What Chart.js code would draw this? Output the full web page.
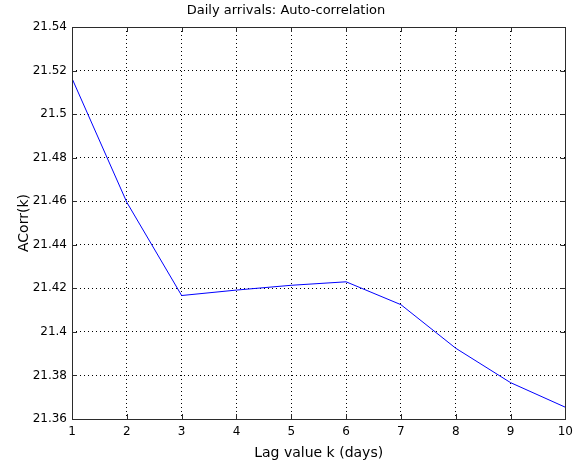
<!DOCTYPE html>
<html>
<head>
<meta charset="utf-8">
<script src="https://cdn.jsdelivr.net/npm/chart.js@4/dist/chart.umd.min.js"></script>
<style>
  html, body { margin: 0; padding: 0; background: #fff; }
  canvas { display: block; }
</style>
</head>
<body>
<canvas id="myChart" width="579" height="466"></canvas>
<script>
let ctx = document.getElementById('myChart').getContext('2d')

// data
let lags  = [1, 2, 3, 4, 5, 6, 7, 8, 9, 10]
let acorr = [21.5164, 21.4595, 21.4167, 21.4192, 21.4214, 21.4230, 21.4125, 21.3925, 21.3767, 21.3654]
let yTicks = [21.36, 21.38, 21.4, 21.42, 21.44, 21.46, 21.48, 21.5, 21.52, 21.54]
let xTicks = [1, 2, 3, 4, 5, 6, 7, 8, 9, 10]

let titleText  = 'Daily arrivals: Auto-correlation'
let xLabelText = 'Lag value k (days)'
let yLabelText = 'ACorr(k)'

const FONT = 'DejaVu Sans'

// matlab style box + inward tick marks
const boxPlugin = {
    id: 'box',
    afterDraw(chart) {
        let c = chart.ctx
        let {left, right, top, bottom} = chart.chartArea
        let xs = chart.scales.x, ys = chart.scales.y
        c.save()
        c.strokeStyle = '#2b2b2b'
        c.lineWidth = 1
        c.beginPath()
        for (let t of xTicks) {
            let px = Math.round(xs.getPixelForValue(t)) + 0.5
            c.moveTo(px, bottom); c.lineTo(px, bottom - 5)
            c.moveTo(px, top); c.lineTo(px, top + 5)
        }
        for (let t of yTicks) {
            let py = Math.round(ys.getPixelForValue(t)) + 0.5
            c.moveTo(left, py); c.lineTo(left + 5, py)
            c.moveTo(right, py); c.lineTo(right - 5, py)
        }
        c.stroke()
        c.strokeRect(Math.round(left) + 0.5, Math.round(top) + 0.5, Math.round(right - left), Math.round(bottom - top))
        c.restore()
    }
}

let chart = new Chart(ctx, {
    type: 'line',
    data: {
        datasets: [{
            data: lags.map((k, i) => ({x: k, y: acorr[i]})),
            borderColor: '#0000ff',
            borderWidth: 1,
            pointRadius: 0,
            tension: 0,
            fill: false
        }]
    },
    options: {
        responsive: false,
        animation: false,
        layout: { padding: {left: 0, right: 7, top: 0, bottom: 0} },
        plugins: {
            legend: { display: false },
            tooltip: { enabled: false },
            title: {
                display: true,
                text: titleText,
                color: '#000',
                font: { family: FONT, size: 13, weight: 'normal' },
                padding: { top: 3, bottom: 8.4 }
            }
        },
        scales: {
            x: {
                type: 'linear',
                min: 1, max: 10,
                afterFit: s => { s.height = 47 },
                afterBuildTicks: s => { s.ticks = xTicks.map(v => ({value: v})) },
                grid: { color: '#000', lineWidth: 1, drawTicks: false },
                border: { display: false, dash: [1, 3] },
                ticks: {
                    color: '#000', padding: 6, maxRotation: 0,
                    font: { family: FONT, size: 12 }
                },
                title: {
                    display: true, text: xLabelText, color: '#000',
                    font: { family: FONT, size: 14 },
                    padding: { top: 0, bottom: 4 }
                }
            },
            y: {
                type: 'linear',
                min: 21.36, max: 21.54,
                afterFit: s => { s.width = 72 },
                afterBuildTicks: s => { s.ticks = yTicks.map(v => ({value: v})) },
                grid: { color: '#000', lineWidth: 1, drawTicks: false },
                border: { display: false, dash: [1, 3] },
                ticks: {
                    color: '#000', padding: 5,
                    font: { family: FONT, size: 12 },
                    callback: v => String(parseFloat(v.toFixed(2)))
                },
                title: {
                    display: true, text: yLabelText, color: '#000',
                    font: { family: FONT, size: 14 },
                    padding: { top: 16, bottom: 0 }
                }
            }
        }
    },
    plugins: [boxPlugin]
})
</script>
</body>
</html>
